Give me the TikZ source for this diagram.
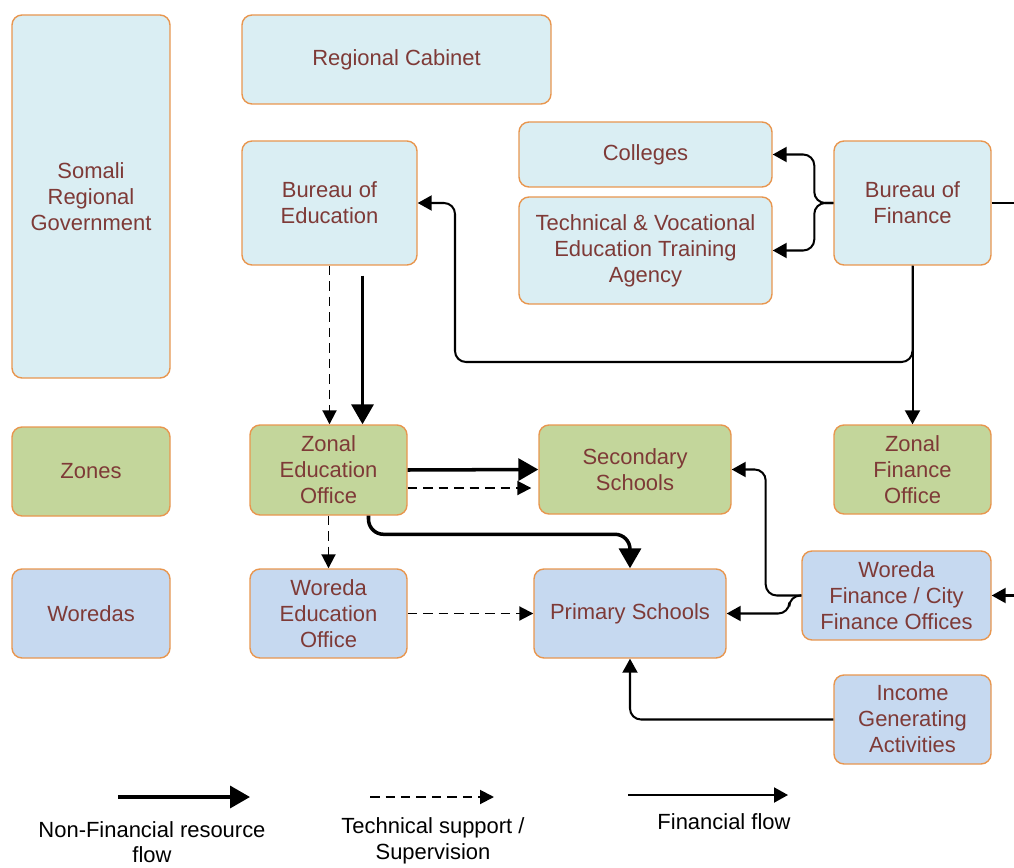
\documentclass[tikz,border=0pt]{standalone}
\usepackage{fontspec}
\setmainfont{Liberation Sans}
\usetikzlibrary{arrows.meta,calc,positioning}

\definecolor{boxline}{HTML}{E8964F}
\definecolor{boxtext}{HTML}{7E3A37}
\definecolor{govfill}{HTML}{DAEEF3}
\definecolor{zonefill}{HTML}{C3D69B}
\definecolor{woredafill}{HTML}{C6D9F0}

\begin{document}
\begin{tikzpicture}[
                x=0.02cm, y=-0.02cm,
                nonfin/.style={line width=2pt, -{Triangle[length=0.4cm,width=0.44cm]}},
                techsup/.style={line width=1.1pt, dash pattern=on 0.19cm off 0.12cm,
                                -{Triangle[length=0.28cm,width=0.28cm]}},
                finflow/.style={line width=1.15pt, rounded corners=0.22cm,
                                -{Triangle[length=0.28cm,width=0.3cm]}}]
        \tikzset{
                basic/.style     = {draw=boxline, line width=0.8pt, rounded corners=0.2cm, align=center,
                                   text=boxtext, font=\fontsize{12.5}{14.8}\selectfont},
                sz/.style 2 args = {minimum width=#1*0.02cm, minimum height=#2*0.02cm},
                govbox/.style    = {basic, fill=govfill},
                zonebox/.style   = {basic, fill=zonefill},
                woredabox/.style = {basic, fill=woredafill},
                legend/.style    = {align=center, font=\fontsize{12.5}{14.6}\selectfont}
        }
        \useasboundingbox (0,0) rectangle (1014,868);

        % left column, the levels of government
        \node[govbox, sz={158}{363}] (srg) at (91,196.5) {Somali\\Regional\\Government};
        \node[zonebox, sz={158}{89}] (zones) at (91,471.5) {Zones};
        \node[woredabox, sz={158}{89}] (woredas) at (91,613.5) {Woredas};

        % regional level
        \node[govbox, sz={309}{89}] (cabinet) at (396.5,59.5) {Regional Cabinet};
        \node[govbox, sz={175}{124}] (boe) at (329.5,203) {Bureau of\\Education};
        \node[govbox, sz={253}{65}] (colleges) at (645.5,154.5) {Colleges};
        \node[govbox, sz={253}{107}] (tvet) at (645.5,250.5) {Technical \& Vocational\\Education Training\\Agency};
        \node[govbox, sz={157}{124}] (bof) at (912.5,203) {Bureau of\\Finance};

        % zonal level
        \node[zonebox, sz={157}{90}] (zoe) at (328.5,470) {Zonal\\Education\\Office};
        \node[zonebox, sz={192}{89}] (sec) at (635,469.5) {Secondary\\Schools};
        \node[zonebox, sz={157}{89}] (zfo) at (912.5,469.5) {Zonal\\Finance\\Office};

        % woreda level
        \node[woredabox, sz={157}{89}] (woe) at (328.5,613.5) {Woreda\\Education\\Office};
        \node[woredabox, sz={192}{89}] (prim) at (630,613.5) {Primary Schools};
        \node[woredabox, sz={189}{89}] (wfo) at (896.5,595.5) {Woreda\\Finance / City\\Finance Offices};
        \node[woredabox, sz={157}{89}] (iga) at (912.5,719.5) {Income\\Generating\\Activities};

        % right edge of the picture, for the lines that leave it
        \coordinate (re) at (1014,0);

        % financial flows
        \coordinate (fk) at ($(bof.west)+(-19,0)$);
        \draw[finflow] (bof.west) -- (fk) |- (colleges.east);
        \draw[finflow] (bof.west) -- (fk) |- (tvet.east);
        \draw[finflow, -] (bof.east) -- (bof.east -| re);
        \draw[finflow] (bof.south) -- (zfo.north);
        \coordinate (bk) at (455,362);
        \draw[finflow] (bof.south) |- (bk) |- (boe.east);
        \draw[finflow] (wfo.east -| re) -- (wfo.east);
        \coordinate (wf) at ($(wfo.west)+(-12,0)$);
        \draw[finflow] (wfo.west) -- (wf) |- (prim.east);
        \draw[finflow] (wfo.west) -| ($(sec.east)+(34,0)$) -- (sec.east);
        \draw[finflow] (iga.west) -| (prim.south);

        % non-financial resource flows
        \coordinate (nf0) at ($(boe.south)+(33,10)$);
        \draw[nonfin] (nf0) -- (nf0 |- zoe.north);
        \draw[nonfin] (zoe.east) -- (sec.west);
        \draw[nonfin, rounded corners=0.3cm] ($(zoe.south)+(40,0)$) |- ($(prim.north)+(0,-34)$) -- (prim.north);

        % technical support / supervision
        \draw[techsup] (boe.south) -- (boe.south |- zoe.north);
        \coordinate (ts1) at ($(zoe.east)+(0,18)$);
        \draw[techsup, shorten >=0.14cm] (ts1) -- (ts1 -| sec.west);
        \draw[techsup] (zoe.south) -- (woe.north);
        \draw[techsup] (woe.east) -- (prim.west);

        % legend
        \coordinate (la1) at (118,797);
        \coordinate (la2) at (250,797);
        \coordinate (lb1) at (370,797);
        \coordinate (lb2) at (494,797);
        \coordinate (lc1) at (628,795);
        \coordinate (lc2) at (788,795);
        \draw[nonfin] (la1) -- (la2);
        \draw[techsup] (lb1) -- (lb2);
        \draw[finflow] (lc1) -- (lc2);
        \node[legend] (l1) at (152,842) {Non-Financial resource\\flow};
        \node[legend] (l2) at (433,841) {Technical support /\\Supervision};
        \node[legend] (l3) at (724,822) {Financial flow};
\end{tikzpicture}
\end{document}
